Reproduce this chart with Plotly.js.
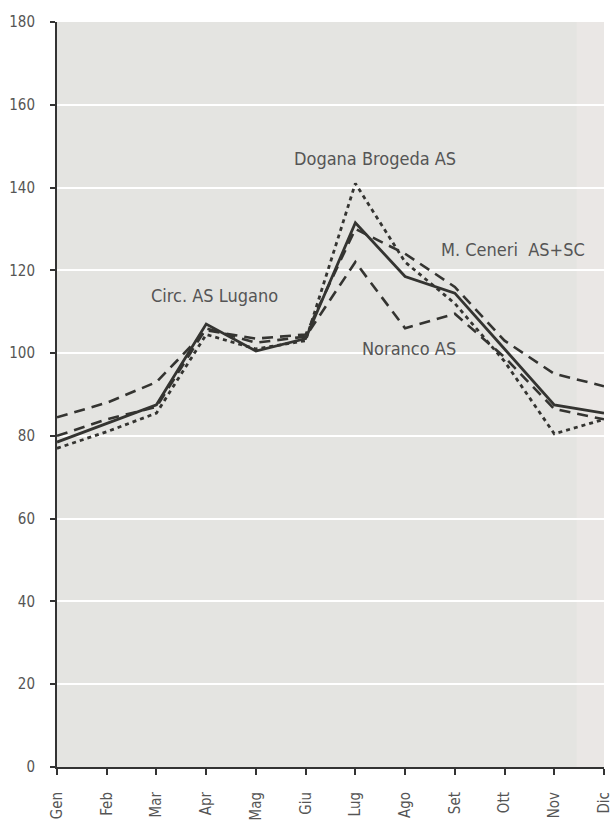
<!DOCTYPE html>
<html>
<head>
<meta charset="utf-8">
<script src="https://cdn.plot.ly/plotly-3.0.1.min.js"></script>
<style>html,body{margin:0;padding:0;background:#fff;}#chart{width:613px;height:830px;}</style>
</head>
<body>
<div id="chart"></div>
<script>
const months = ["Gen","Feb","Mar","Apr","Mag","Giu","Lug","Ago","Set","Ott","Nov","Dic"];
const lugano   = [78.5, 83, 87.5, 107, 100.5, 103.5, 131.5, 118.5, 114.5, 101, 87.5, 85.5];
const brogeda  = [77, 81, 85.5, 104.5, 101, 103, 141, 122, 112, 98, 80.5, 84];
const ceneri   = [84.5, 88, 93, 105.5, 103.5, 104.5, 130, 124, 116, 103, 95, 92];
const noranco  = [80, 84, 87, 106, 102.5, 104, 122, 106, 109.5, 99, 86.5, 84];
const yTicks = [0,20,40,60,80,100,120,140,160,180];

const font = "DejaVu Sans Condensed, Liberation Sans Narrow, sans-serif";
const lineCol = "#343431";
const idx = months.map((m,i)=>i);

function tr(name, y, dash, w){
  return {type:"scatter", mode:"lines", name:name, x:idx, y:y,
    line:{color:lineCol, width:w, dash:dash}, hoverinfo:"skip"};
}
const data = [
  tr("M. Ceneri AS+SC", ceneri, "11px,7px", 2.6),
  tr("Noranco AS", noranco, "11px,7px", 2.6),
  tr("Dogana Brogeda AS", brogeda, "4px,4px", 2.8),
  tr("Circ. AS Lugano", lugano, "solid", 2.8)
];

const labels = [
  {text:"Dogana Brogeda AS", x:6.4, y:147},
  {text:"M. Ceneri  AS+SC", x:9.17, y:125},
  {text:"Circ. AS Lugano", x:3.16, y:114},
  {text:"Noranco AS", x:7.08, y:101}
];

const layout = {
  width:613, height:830,
  margin:{l:57, r:9, t:22, b:63},
  paper_bgcolor:"#ffffff",
  plot_bgcolor:"#e4e4e1",
  showlegend:false,
  font:{family:font, color:"#555", size:15},
  xaxis:{
    range:[0,11], tickmode:"array", tickvals:idx, ticktext:months,
    tickangle:-90, ticks:"outside", ticklen:6, tickwidth:2, tickcolor:"#333",
    ticklabelstandoff:11,
    showline:true, linecolor:"#333", linewidth:2, showgrid:false, zeroline:false,
    tickfont:{family:font, size:15, color:"#555"}, fixedrange:true
  },
  yaxis:{
    range:[0,180], tickmode:"array", tickvals:yTicks,
    ticks:"outside", ticklen:5, tickwidth:2, tickcolor:"#333",
    ticklabelstandoff:12,
    showline:true, linecolor:"#333", linewidth:2,
    showgrid:true, gridcolor:"#ffffff", gridwidth:2, zeroline:false,
    tickfont:{family:font, size:15, color:"#555"}, fixedrange:true
  },
  shapes:[{type:"rect", xref:"x", yref:"paper", x0:10.45, x1:11, y0:0, y1:1,
    fillcolor:"#eae7e5", line:{width:0}, layer:"below"}],
  annotations: labels.map(l=>({text:l.text, x:l.x, y:l.y, xref:"x", yref:"y",
    showarrow:false, font:{family:font, size:18, color:"#555"}}))
};
Plotly.newPlot("chart", data, layout, {displayModeBar:false, staticPlot:true});
</script>
</body>
</html>
